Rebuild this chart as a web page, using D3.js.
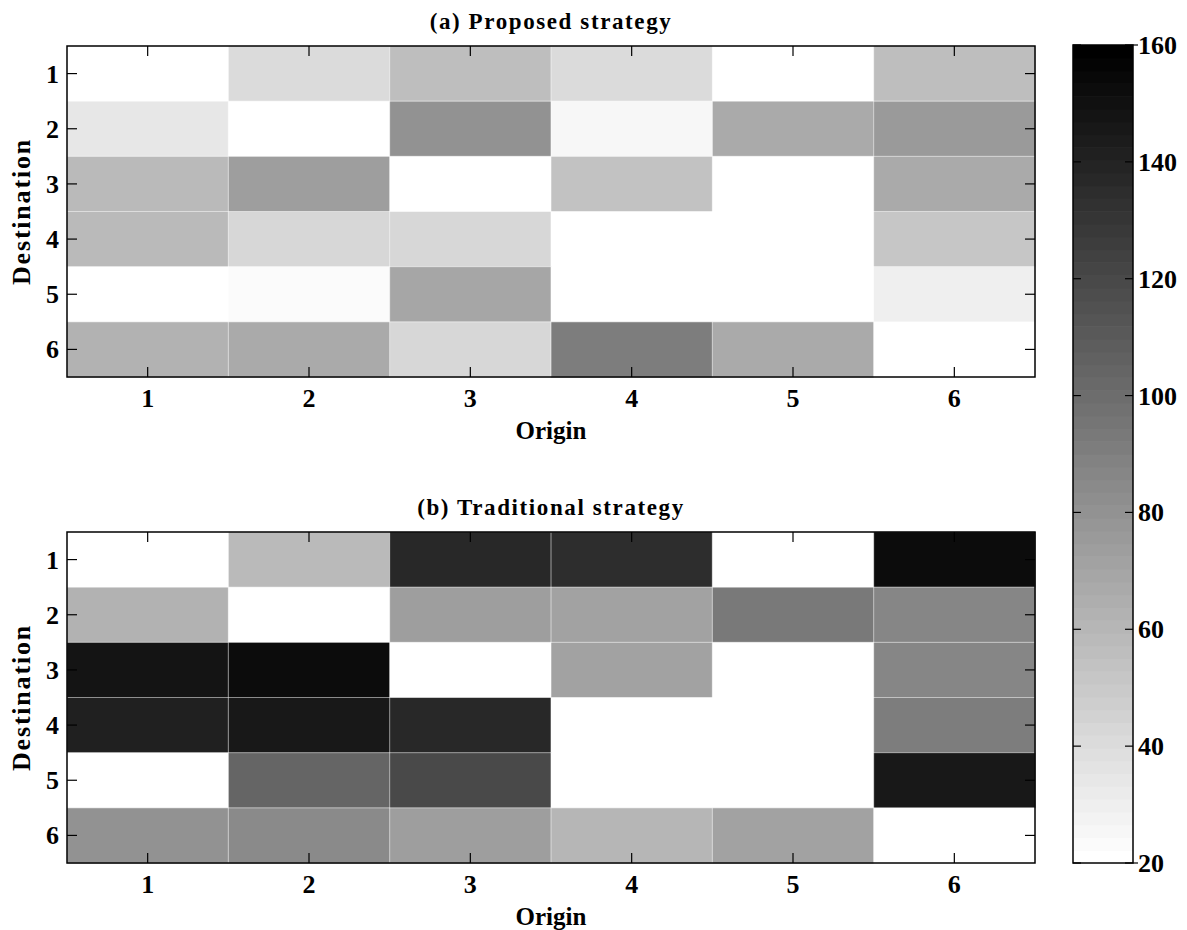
<!DOCTYPE html>
<html><head><meta charset="utf-8">
<script src="https://cdn.jsdelivr.net/npm/d3@7"></script>
<style>body{margin:0;background:#fff}svg{display:block}text{font-family:"Liberation Serif","Times New Roman",serif;font-weight:bold;fill:#000}</style>
</head><body>
<svg id="c" width="1187" height="930"></svg>
<script>
const origins = [1,2,3,4,5,6];
const destinations = [1,2,3,4,5,6];
// rows = destination, columns = origin
const proposed = [
  [0, 41, 57, 40, 0, 56],
  [35, 0, 81, 26, 67, 75],
  [58, 74, 0, 53, 0, 67],
  [58, 44, 44, 0, 0, 52],
  [0, 23, 69, 0, 0, 29],
  [62, 66, 43, 92, 67, 0]
];
const traditional = [
  [0, 58, 137, 135, 0, 152],
  [62, 0, 73, 71, 94, 87],
  [148, 153, 0, 71, 0, 86],
  [141, 146, 137, 0, 0, 90],
  [0, 104, 120, 0, 0, 146],
  [81, 85, 74, 61, 72, 0]
];
const colorTicks = [20,40,60,80,100,120,140,160];
const titles = ["(a)  Proposed strategy", "(b)  Traditional strategy"];
const cmin = 20, cmax = 160, nLevels = 64;

const svg = d3.select("#c");
const levels = d3.range(nLevels).map(i => { const g = Math.round(255*(1 - i/(nLevels-1))); return `rgb(${g},${g},${g})`; });
const color = d3.scaleQuantize().domain([cmin,cmax]).range(levels);
const col = v => color(Math.max(cmin, Math.min(cmax, v)));

const left = 67, right = 1035;
const panels = [{data: proposed, top: 46, bottom: 377, title: titles[0]},
                {data: traditional, top: 532, bottom: 863, title: titles[1]}];
const tickLen = 10;

panels.forEach(p => {
  const x = d3.scaleBand().domain(origins).range([left,right]).padding(0);
  const y = d3.scaleBand().domain(destinations).range([p.top,p.bottom]).padding(0);
  const g = svg.append("g");
  const cells = [];
  p.data.forEach((row,i) => row.forEach((v,j) => cells.push({o: origins[j], d: destinations[i], v})));
  g.selectAll("rect.cell").data(cells).join("rect").attr("class","cell")
    .attr("x", d => x(d.o)).attr("y", d => y(d.d))
    .attr("width", x.bandwidth()+0.5).attr("height", y.bandwidth()+0.5)
    .attr("fill", d => col(d.v));
  g.selectAll("rect.seam").data(cells).join("rect").attr("class","seam")
    .attr("x", d => x(d.o)).attr("y", d => y(d.d))
    .attr("width", x.bandwidth()).attr("height", y.bandwidth())
    .attr("fill","none").attr("stroke","rgba(255,255,255,0.3)").attr("stroke-width",1);

  const cx = d => x(d) + x.bandwidth()/2, cy = d => y(d) + y.bandwidth()/2;
  const tk = g.append("g").attr("stroke","#000").attr("stroke-width",1.2);
  origins.forEach(o => {
    tk.append("line").attr("x1",cx(o)).attr("x2",cx(o)).attr("y1",p.bottom).attr("y2",p.bottom-tickLen);
    tk.append("line").attr("x1",cx(o)).attr("x2",cx(o)).attr("y1",p.top).attr("y2",p.top+tickLen);
  });
  destinations.forEach(d => {
    tk.append("line").attr("x1",left).attr("x2",left+tickLen).attr("y1",cy(d)).attr("y2",cy(d));
    tk.append("line").attr("x1",right).attr("x2",right-tickLen).attr("y1",cy(d)).attr("y2",cy(d));
  });
  g.append("rect").attr("x",left).attr("y",p.top).attr("width",right-left).attr("height",p.bottom-p.top)
    .attr("fill","none").attr("stroke","#000").attr("stroke-width",1.5);
  g.selectAll("text.xt").data(origins).join("text").attr("class","xt")
    .attr("x", cx).attr("y", p.bottom+30).attr("text-anchor","middle").style("font-size","26px").text(d => d);
  g.selectAll("text.yt").data(destinations).join("text").attr("class","yt")
    .attr("x", 59).attr("y", d => cy(d)+9).attr("text-anchor","end").style("font-size","26px").text(d => d);
  g.append("text").attr("x",(left+right)/2).attr("y",p.bottom+62).attr("text-anchor","middle").style("font-size","25px").text("Origin");
  g.append("text").attr("transform",`translate(30,${(p.top+p.bottom)/2}) rotate(-90)`).attr("text-anchor","middle")
    .style("font-size","26px").style("letter-spacing","1.8px").text("Destination");
  g.append("text").attr("x",(left+right)/2).attr("y",p.top-17).attr("text-anchor","middle")
    .style("font-size","23px").style("letter-spacing","1.6px").text(p.title);
});

// colorbar
const cbL = 1073, cbR = 1133, cbT = 45, cbB = 863;
const cy2 = d3.scaleLinear().domain([cmin,cmax]).range([cbB,cbT]);
const step = (cmax-cmin)/nLevels;
const cb = svg.append("g");
cb.selectAll("rect.lv").data(levels).join("rect").attr("class","lv")
  .attr("x",cbL).attr("width",cbR-cbL)
  .attr("y",(c,i) => cy2(cmin + (i+1)*step)).attr("height",(c,i) => cy2(cmin+i*step)-cy2(cmin+(i+1)*step)+0.6)
  .attr("fill", c => c);
const ct = cb.append("g").attr("stroke","#000").attr("stroke-width",1.2);
colorTicks.forEach(t => {
  ct.append("line").attr("x1",cbL).attr("x2",cbL+8).attr("y1",cy2(t)).attr("y2",cy2(t));
  ct.append("line").attr("x1",cbR).attr("x2",cbR-8).attr("y1",cy2(t)).attr("y2",cy2(t));
});
ct.append("line").attr("x1",cbR).attr("x2",cbR+5).attr("y1",cy2(cmax)).attr("y2",cy2(cmax));
ct.append("line").attr("x1",cbR).attr("x2",cbR+5).attr("y1",cy2(cmin)).attr("y2",cy2(cmin));
cb.append("rect").attr("x",cbL).attr("y",cbT).attr("width",cbR-cbL).attr("height",cbB-cbT)
  .attr("fill","none").attr("stroke","#000").attr("stroke-width",1.5);
cb.selectAll("text").data(colorTicks).join("text")
  .attr("x",cbR+5).attr("y",d => cy2(d)+9).style("font-size","26px").text(d => d);
</script>
</body></html>
